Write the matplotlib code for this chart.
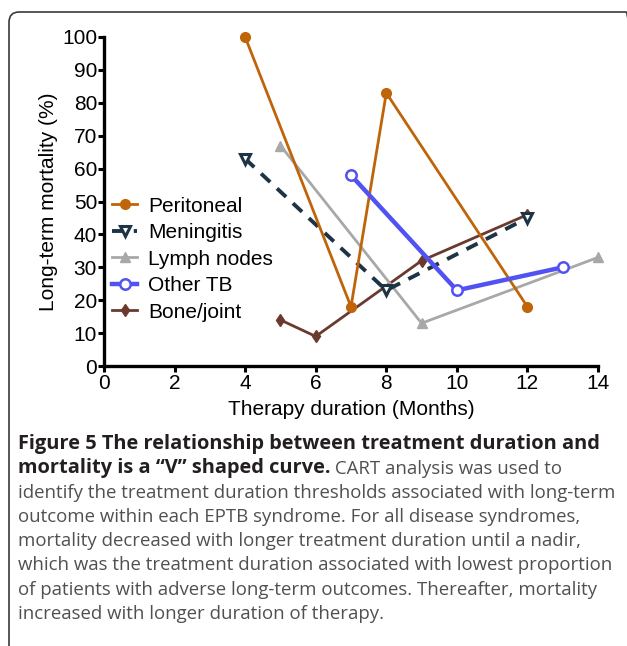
import matplotlib
matplotlib.use("Agg")
import matplotlib.pyplot as plt
from matplotlib.patches import FancyBboxPatch

# data
peritoneal_x = [4, 7, 8, 12]
peritoneal_y = [100, 18, 83, 18]
mening_x = [4, 8, 12]
mening_y = [63, 23, 45]
lymph_x = [5, 9, 14]
lymph_y = [67, 13, 33]
other_x = [7, 10, 13]
other_y = [58, 23, 30]
bone_x = [5, 6, 9, 12]
bone_y = [14, 9, 32, 46]

xticks = list(range(0, 15, 2))
yticks = list(range(0, 101, 10))

plt.rcParams['font.family'] = ['Liberation Sans', 'DejaVu Sans']

fig = plt.figure(figsize=(6.27, 6.46), dpi=100)
W, H = 627, 646

# rounded frame around figure + caption (right/bottom edges run off the image)
frame = FancyBboxPatch((9 / W, -0.1), 1.0, 1 - 12 / H + 0.1,
                       boxstyle="round,pad=0,rounding_size=0.016",
                       transform=fig.transFigure, fill=False,
                       edgecolor='#3a3a3a', linewidth=1.2, clip_on=False)
fig.patches.append(frame)

ax = fig.add_axes([104 / W, 1 - 366 / H, (598 - 104) / W, (366 - 37) / H])

ax.plot(peritoneal_x, peritoneal_y, color='#C0640A', lw=2.0, marker='o', ms=7,
        label='Peritoneal', clip_on=False, zorder=5)
ax.plot(mening_x, mening_y, color='#1E3445', lw=2.8, ls=(0, (3.2, 2.4)), marker='v', ms=6.5,
        mfc='white', mew=2.2, label='Meningitis', clip_on=False, zorder=4)
ax.plot(lymph_x, lymph_y, color='#A8A8A8', lw=2.0, marker='^', ms=7.5,
        label='Lymph nodes', clip_on=False, zorder=3)
ax.plot(other_x, other_y, color='#5252F2', lw=3.2, marker='o', ms=7.5,
        mfc='white', mew=1.8, label='Other TB', clip_on=False, zorder=6)
ax.plot(bone_x, bone_y, color='#6B3A2E', lw=2.0, marker='d', ms=6,
        label='Bone/joint', clip_on=False, zorder=2)

ax.set_xlim(0, 14)
ax.set_ylim(0, 100)
ax.set_xticks(xticks)
ax.set_yticks(yticks)
for s in ['top', 'right']:
    ax.spines[s].set_visible(False)
for s in ['left', 'bottom']:
    ax.spines[s].set_linewidth(2.4)
ax.tick_params(width=2.2, length=4, labelsize=15, pad=1, colors='black')
ax.tick_params(axis='x', pad=2)
ax.set_xlabel('Therapy duration (Months)', fontsize=15, labelpad=5)
ax.set_ylabel('Long-term mortality (%)', fontsize=15, labelpad=3)

ax.legend(loc='upper left', bbox_to_anchor=(0.0, 0.54), frameon=False,
          fontsize=15, handlelength=1.2, handletextpad=0.5,
          labelspacing=0.36, borderaxespad=0)

# caption
cap_font = ['Open Sans', 'DejaVu Sans']
fs_b = 14.45
fs_r = 13.4
lines = [
    ("Figure 5 The relationship between treatment duration and", ""),
    ("mortality is a \u201cV\u201d shaped curve.", " CART analysis was used to"),
    ("", "identify the treatment duration thresholds associated with long-term"),
    ("", "outcome within each EPTB syndrome. For all disease syndromes,"),
    ("", "mortality decreased with longer treatment duration until a nadir,"),
    ("", "which was the treatment duration associated with lowest proportion"),
    ("", "of patients with adverse long-term outcomes. Thereafter, mortality"),
    ("", "increased with longer duration of therapy."),
]
y0 = 444
for i, (b, r) in enumerate(lines):
    y = 1 - (y0 + i * 24.3) / H
    if b:
        t = fig.text(18 / W, y, b, family=cap_font, fontsize=fs_b, weight='bold',
                     color='#231f20', va='center', ha='left')
        if r:
            ax.annotate(r, xy=(1, 0), xycoords=t, va='bottom', ha='left',
                        family=cap_font, fontsize=fs_r, color='#505050',
                        annotation_clip=False)
    else:
        fig.text(18 / W, y, r, family=cap_font, fontsize=fs_r, color='#505050',
                 va='center', ha='left')

fig.savefig('out.png', dpi=100)
